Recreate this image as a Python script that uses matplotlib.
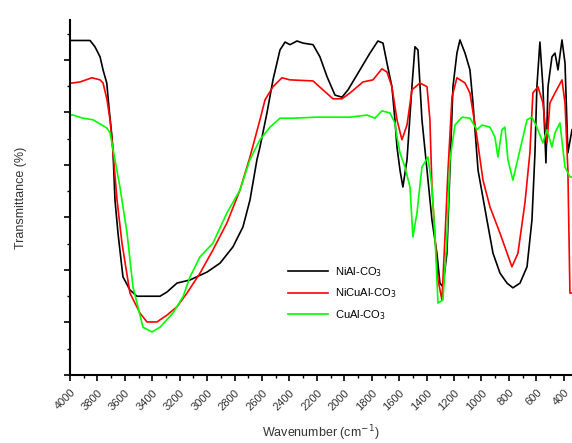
import matplotlib
matplotlib.use("Agg")
import matplotlib.pyplot as plt
from matplotlib.ticker import MultipleLocator, NullFormatter

plt.rcParams['font.family'] = ['Liberation Sans', 'DejaVu Sans']

# NiAl-CO3
nial_wn = [4000, 3854, 3818, 3781, 3759, 3732, 3716, 3694, 3687, 3672, 3650, 3614, 3563,
           3512, 3344, 3293, 3220, 3125, 3001, 2906, 2812, 2739, 2688, 2637, 2615, 2564,
           2520, 2469, 2432, 2396, 2345, 2301, 2228, 2178, 2126, 2068, 2017, 1973, 1886,
           1813, 1755, 1718, 1689, 1653, 1631, 1616, 1594, 1573, 1543, 1507, 1485, 1463,
           1434, 1397, 1361, 1325, 1303, 1281, 1252, 1230, 1208, 1179, 1157, 1120, 1084,
           1062, 1025, 960, 916, 865, 814, 771, 719, 668, 632, 610, 596, 574, 552, 530,
           515, 486, 464, 442, 413, 391, 370, 340]
nial_t = [63.7, 63.7, 62.5, 60.6, 58.1, 55.6, 51.0, 45.3, 42.9, 33.3, 27.0, 18.7, 16.2,
          15.0, 15.0, 15.8, 17.5, 18.1, 19.6, 21.3, 24.4, 28.2, 33.3, 41.0, 43.4, 49.9,
          56.2, 61.9, 63.4, 62.9, 63.6, 63.2, 62.9, 60.6, 56.8, 53.3, 52.9, 54.3, 58.1,
          61.3, 63.6, 63.2, 59.4, 54.9, 48.6, 43.4, 39.0, 35.8, 41.0, 54.9, 62.5, 61.9,
          48.6, 39.0, 29.5, 23.2, 17.5, 16.8, 23.2, 39.0, 54.9, 61.3, 63.8, 61.3, 58.1,
          51.8, 39.0, 29.5, 23.2, 19.4, 17.5, 16.6, 17.5, 20.6, 29.5, 42.3, 54.9, 63.4,
          54.9, 40.4, 54.9, 60.6, 61.3, 58.1, 63.8, 59.4, 42.3, 46.7]

# NiCuAl-CO3
nicual_wn = [4000, 3985, 3927, 3840, 3781, 3759, 3730, 3708, 3694, 3657, 3621, 3563, 3490,
             3439, 3366, 3293, 3220, 3147, 3052, 2958, 2855, 2761, 2688, 2615, 2578, 2520,
             2454, 2396, 2228, 2156, 2083, 2017, 1959, 1864, 1791, 1726, 1689, 1653, 1616,
             1580, 1543, 1507, 1449, 1397, 1376, 1361, 1339, 1317, 1288, 1266, 1244, 1215,
             1179, 1120, 1084, 1033, 989, 938, 865, 778, 734, 683, 647, 625, 588, 552, 523,
             501, 464, 413, 391, 370, 355, 340]
nicual_t = [55.6, 55.6, 55.8, 56.6, 56.2, 55.6, 52.4, 48.6, 44.8, 33.3, 25.1, 15.6, 11.8,
            10.1, 10.1, 11.4, 13.0, 15.6, 19.4, 23.8, 29.0, 35.2, 41.5, 48.6, 52.4, 54.9,
            56.6, 56.2, 56.0, 54.3, 52.6, 52.6, 53.7, 55.8, 56.2, 58.3, 57.7, 54.9, 48.6,
            44.8, 47.6, 54.3, 55.6, 54.9, 48.6, 35.8, 26.3, 18.1, 14.3, 26.3, 39.0, 52.9,
            56.6, 55.6, 53.7, 45.3, 37.1, 32.0, 27.0, 20.6, 23.2, 32.8, 42.3, 53.7, 54.9,
            51.8, 44.2, 51.8, 53.7, 56.2, 51.8, 39.0, 15.6, 15.6]

# CuAl-CO3
cual_wn = [4000, 3978, 3905, 3832, 3767, 3730, 3708, 3672, 3636, 3584, 3541, 3468, 3402,
           3344, 3249, 3176, 3125, 3052, 2958, 2855, 2761, 2688, 2615, 2542, 2469, 2374,
           2199, 1959, 1835, 1777, 1726, 1667, 1631, 1616, 1594, 1558, 1521, 1500, 1470,
           1434, 1390, 1361, 1339, 1317, 1281, 1252, 1230, 1193, 1142, 1084, 1033, 996,
           938, 902, 880, 851, 829, 807, 771, 719, 668, 632, 596, 552, 523, 486, 464, 428,
           391, 355, 340]
cual_t = [49.5, 49.5, 48.9, 48.6, 47.6, 47.0, 46.1, 41.0, 35.8, 27.0, 16.8, 9.1, 8.2,
          9.1, 11.8, 14.9, 18.7, 22.5, 25.1, 30.9, 35.2, 41.0, 44.8, 47.2, 48.9, 48.9,
          49.1, 49.1, 49.5, 48.9, 50.3, 49.9, 48.0, 45.3, 42.3, 39.6, 35.8, 26.3, 30.9,
          39.6, 41.5, 35.8, 26.3, 13.7, 14.3, 26.3, 41.0, 47.6, 49.1, 48.9, 46.7, 47.6,
          47.2, 45.3, 41.5, 46.7, 47.2, 41.0, 37.1, 42.9, 48.6, 49.1, 47.2, 44.2, 46.7,
          43.4, 46.1, 48.0, 39.6, 37.7, 37.7]

fig = plt.figure(figsize=(5.72, 4.43), dpi=100)
ax = fig.add_axes([70 / 572, 1 - 375 / 443, 502 / 572, 355 / 443])

ax.plot(nial_wn, nial_t, color='black', lw=1.2, label='NiAl-CO$_3$')
ax.plot(nicual_wn, nicual_t, color='#ff0000', lw=1.2, label='NiCuAl-CO$_3$')
ax.plot(cual_wn, cual_t, color='#00ff00', lw=1.2, label='CuAl-CO$_3$')

ax.set_xlim(4000, 340)
ax.set_ylim(0, 67.6)
ax.xaxis.set_major_locator(MultipleLocator(200))
ax.xaxis.set_minor_locator(MultipleLocator(100))
ax.yaxis.set_major_locator(MultipleLocator(10))
ax.yaxis.set_minor_locator(MultipleLocator(5))
ax.yaxis.set_major_formatter(NullFormatter())

for lab in ax.get_xticklabels():
    lab.set_rotation(45)
    lab.set_ha('right')
    lab.set_va('top')
    lab.set_rotation_mode('anchor')
    lab.set_fontsize(8)
    lab.set_color('#333333')

ax.tick_params(which='major', direction='out', length=4, width=1.2, pad=5)
ax.tick_params(which='minor', direction='out', length=2.5, width=1.0)
for s in ['top', 'right']:
    ax.spines[s].set_visible(False)
for s in ['left', 'bottom']:
    ax.spines[s].set_linewidth(1.5)

ax.set_xlabel('Wavenumber (cm$^{-1}$)', fontsize=9, color='#333333', labelpad=8)
ax.set_ylabel('Transmittance (%)', fontsize=9, color='#333333', labelpad=22)

ax.legend(loc='upper left', bbox_to_anchor=(0.434, 0.31), frameon=False, fontsize=8,
          handlelength=3.6, handletextpad=0.6, labelspacing=0.7, borderpad=0,
          borderaxespad=0)

fig.savefig('out.png', dpi=100)
